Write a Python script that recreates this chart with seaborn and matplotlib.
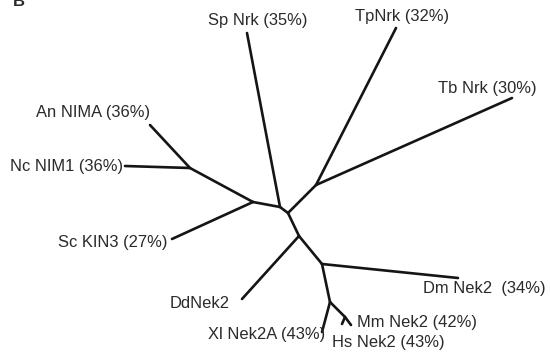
import pandas as pd
import matplotlib.pyplot as plt
import seaborn as sns

# tree nodes (pixel-ish layout)
node_names = ['An', 'Nc', 'Sc', 'Sp', 'Tp', 'Tb', 'Dd', 'Dm', 'Xl', 'Mm', 'Hs',
              'nA', 'nB', 'nC', 'nD', 'nE', 'nF', 'nG', 'nH', 'nI']
node_x = [150, 125, 172, 247, 396, 512, 242, 458, 322, 351, 342,
          190, 253, 280, 288, 316, 299, 322, 330, 345]
node_y = [125, 166, 239, 33, 28, 98, 299, 278, 332, 325, 324,
          168, 202, 207, 213, 185, 236, 264, 302, 317]

edge_from = ['An', 'Nc', 'nA', 'Sc', 'nB', 'Sp', 'nC', 'Tp', 'Tb', 'nE', 'nD', 'Dd', 'nF', 'Dm', 'nG', 'Xl', 'nH', 'nI', 'nI']
edge_to = ['nA', 'nA', 'nB', 'nB', 'nC', 'nC', 'nD', 'nE', 'nE', 'nD', 'nF', 'nF', 'nG', 'nG', 'nH', 'nH', 'nI', 'Mm', 'Hs']

labels = ['Sp Nrk (35%)', 'TpNrk (32%)', 'Tb Nrk (30%)', 'An NIMA (36%)', 'Nc NIM1 (36%)',
          'Sc KIN3 (27%)', 'DdNek2', 'Xl Nek2A (43%)', 'Dm Nek2  (34%)', 'Mm Nek2 (42%)',
          'Hs Nek2 (43%)']
label_x = [208, 355, 438, 36, 10, 58, 170, 208, 423, 357, 332]
label_y = [21, 17, 89, 113, 166, 242, 304, 334, 289, 322, 342]

pos = dict(zip(node_names, zip(node_x, node_y)))
rows = []
for i, (a, b) in enumerate(zip(edge_from, edge_to)):
    rows.append({'edge': i, 'x': pos[a][0], 'y': pos[a][1]})
    rows.append({'edge': i, 'x': pos[b][0], 'y': pos[b][1]})
edges = pd.DataFrame(rows)

sns.set_style('white')
plt.rcParams['font.family'] = ['Liberation Sans', 'DejaVu Sans']

fig = plt.figure(figsize=(5.5, 3.54), dpi=100)
ax = fig.add_axes([0, 0, 1, 1])

sns.lineplot(data=edges, x='x', y='y', units='edge', estimator=None, sort=False,
             color='#151515', linewidth=1.9, ax=ax)

for t, x, y in zip(labels, label_x, label_y):
    ax.text(x, y, t, fontsize=11.9, color='#2a2a2a', ha='left', va='center')

# panel letter, clipped at the top like in the source figure
ax.text(13, 1, 'B', fontsize=12, fontweight='bold', color='#2a2a2a', ha='left', va='center')

ax.set_xlim(0, 550)
ax.set_ylim(354, 0)
ax.axis('off')

plt.savefig('out.png', dpi=100)
